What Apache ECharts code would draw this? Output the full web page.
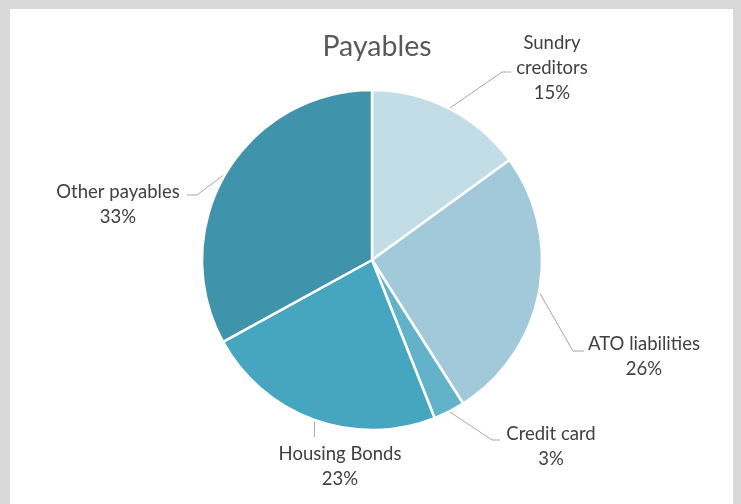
<!DOCTYPE html>
<html>
<head>
<meta charset="utf-8">
<script src="https://cdn.jsdelivr.net/npm/echarts@6/dist/echarts.min.js"></script>
<style>
  html, body { margin: 0; padding: 0; background: #d9d9d9; }
  #frame { position: absolute; left: 10px; top: 9px; width: 723px; height: 495px; background: #ffffff; }
  #chart { position: absolute; left: 0; top: 0; width: 741px; height: 504px; }
</style>
</head>
<body>
<div id="frame"></div>
<div id="chart"></div>
<script>
// Payables breakdown (share of total, %)
const categories = ['Sundry creditors', 'ATO liabilities', 'Credit card', 'Housing Bonds', 'Other payables'];
const shares = [15, 26, 3, 23, 33];
const sliceColors = ['#c2dde6', '#a1c9d9', '#62b2ca', '#47a6bf', '#3f93ab'];
const wrappedNames = ['Sundry creditors'];

// Label block centres and leader-line bends (manual callout layout)
const labelSpots = {
  'Sundry creditors': { x: 552, y: 68,  bend: [502, 72],  end: [511, 72] },
  'ATO liabilities':  { x: 644, y: 357, bend: [573, 351], end: [584, 351] },
  'Credit card':      { x: 551, y: 447, bend: [492, 440], end: [500, 440] },
  'Housing Bonds':    { x: 340, y: 467, drop: 17 },
  'Other payables':   { x: 118, y: 205, bend: [197, 195], end: [187, 195] }
};

const FONT = 'Lato, "Open Sans", sans-serif';

const chart = echarts.init(document.getElementById('chart'), null, { renderer: 'canvas' });

chart.setOption({
  animation: false,
  backgroundColor: 'transparent',
  title: {
    text: 'Payables',
    left: 372,
    top: 27,
    textAlign: 'center',
    textStyle: { fontFamily: FONT, fontSize: 28.5, fontWeight: 'normal', color: '#595959' }
  },
  series: [{
    type: 'pie',
    center: [372, 260],
    radius: 170,
    startAngle: 90,
    clockwise: true,
    silent: true,
    emphasis: { disabled: true },
    itemStyle: { borderColor: '#ffffff', borderWidth: 2.5 },
    label: {
      show: true,
      position: 'outside',
      formatter: function (p) {
        const name = wrappedNames.indexOf(p.name) >= 0 ? p.name.split(' ') : [p.name];
        return name.concat([p.value + '%']).map(function (t) { return '{c|' + t + '}'; }).join('\n');
      },
      rich: {
        c: { align: 'center', fontFamily: FONT, fontSize: 18.5, lineHeight: 25, color: '#404040' }
      }
    },
    labelLine: {
      show: true,
      length: 20,
      length2: 10,
      lineStyle: { color: '#a6a6a6', width: 1 }
    },
    labelLayout: function (params) {
      const s = labelSpots[categories[params.dataIndex]];
      const start = params.labelLinePoints ? params.labelLinePoints[0] : [s.x, s.y];
      const pts = s.drop != null
        ? [start, [start[0], start[1] + s.drop]]
        : [start, s.bend, s.end];
      return { x: s.x, y: s.y, align: 'center', verticalAlign: 'middle', labelLinePoints: pts };
    },
    data: categories.map(function (name, i) {
      return { name: name, value: shares[i], itemStyle: { color: sliceColors[i] } };
    })
  }]
});
</script>
</body>
</html>
